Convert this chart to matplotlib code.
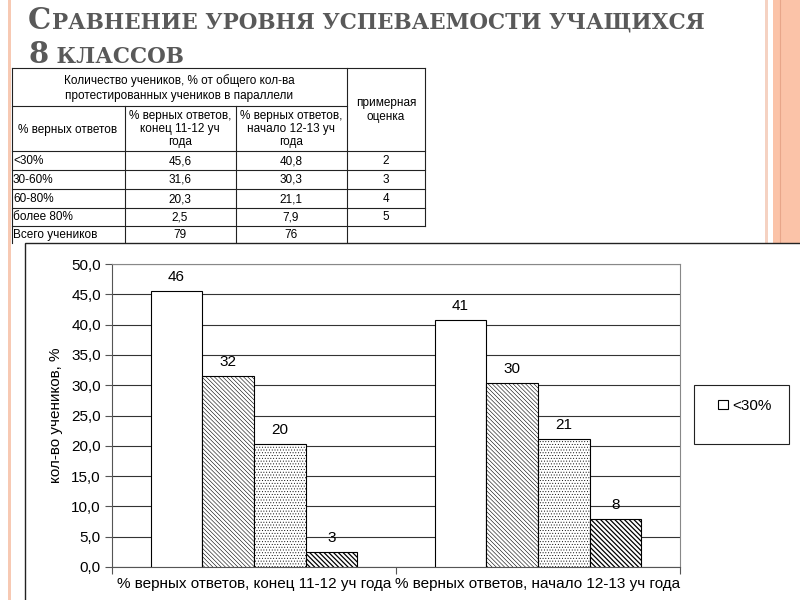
import numpy as np
import matplotlib as mpl
import matplotlib.pyplot as plt
from matplotlib.patches import Rectangle

plt.rcParams['font.family'] = ['Liberation Sans', 'DejaVu Sans']

# data
groups = ["% верных ответов, конец 11-12 уч года",
          "% верных ответов, начало 12-13 уч года"]
series = ["<30%", "30-60%", "60-80%", "более 80%"]
end_11_12 = [45.6, 31.6, 20.3, 2.5]
start_12_13 = [40.8, 30.3, 21.1, 7.9]
grades = ["2", "3", "4", "5"]
total_students = ["79", "76"]
yticks = np.arange(0, 55, 5)

W, H = 800, 600
fig = plt.figure(figsize=(8, 6), dpi=100)

# background layer in pixel coordinates
bg = fig.add_axes([0, 0, 1, 1])
bg.set_xlim(0, W)
bg.set_ylim(H, 0)
bg.axis('off')

# slide decoration (salmon borders)
bg.add_patch(Rectangle((8, 0), 3, H, color='#f7c9b3', lw=0))
bg.add_patch(Rectangle((765, 0), 3, H, color='#f5d2c2', lw=0))
bg.add_patch(Rectangle((773, 0), 27, H, color='#fbc3a8', lw=0))
bg.plot([780, 780], [0, H], color='#e8a68a', lw=0.8)

# title (small caps look)
title_col = '#595959'
def small_caps(x, y, first, rest, big=21, small=15.5):
    t = bg.text(x, y, first, fontsize=big, family='DejaVu Serif',
                weight='bold', color=title_col, va='baseline')
    fig.canvas.draw()
    bb = t.get_window_extent()
    bg.text(x + bb.width + 1, y, rest, fontsize=small, family='DejaVu Serif',
            weight='bold', color=title_col, va='baseline')

small_caps(28, 29, "С", "РАВНЕНИЕ УРОВНЯ УСПЕВАЕМОСТИ УЧАЩИХСЯ")
small_caps(28, 63, "8", " КЛАССОВ")

# table
rows = [151, 170, 189, 208, 226, 243]
lc = '#222222'
tl = 0.8
bg.plot([12, 425], [68, 68], color=lc, lw=tl)
bg.plot([12, 347], [106, 106], color=lc, lw=tl)
for r in rows[:-1]:
    bg.plot([12, 425], [r, r], color=lc, lw=tl)
bg.plot([12, 12], [68, 243], color=lc, lw=tl)
bg.plot([125, 125], [106, 243], color=lc, lw=tl)
bg.plot([236, 236], [106, 243], color=lc, lw=tl)
bg.plot([347, 347], [68, 243], color=lc, lw=tl)
bg.plot([425, 425], [68, 226], color=lc, lw=tl)

fs_t = 8.5
bg.text(179, 88, "Количество учеников, % от общего кол-ва\nпротестированных учеников в параллели",
        ha='center', va='center', fontsize=fs_t, linespacing=1.3)
bg.text(386, 110, "примерная\nоценка", ha='center', va='center', fontsize=fs_t, linespacing=1.3)
bg.text(68, 130, "% верных ответов", ha='center', va='center', fontsize=fs_t)
bg.text(180, 129, "% верных ответов,\nконец 11-12 уч\nгода", ha='center', va='center',
        fontsize=fs_t, linespacing=1.15)
bg.text(291, 129, "% верных ответов,\nначало 12-13 уч\nгода", ha='center', va='center',
        fontsize=fs_t, linespacing=1.15)
row_names = series[:3] + ["более 80%", "Всего учеников"]
for i, name in enumerate(row_names):
    yc = (rows[i] + rows[i + 1]) / 2 + 0.5
    bg.text(13, yc, name, ha='left', va='center', fontsize=fs_t)
    if i < 4:
        bg.text(180, yc, f"{end_11_12[i]:.1f}".replace('.', ','), ha='center', va='center', fontsize=fs_t)
        bg.text(291, yc, f"{start_12_13[i]:.1f}".replace('.', ','), ha='center', va='center', fontsize=fs_t)
        bg.text(386, yc, grades[i], ha='center', va='center', fontsize=fs_t)
    else:
        bg.text(180, yc, total_students[0], ha='center', va='center', fontsize=fs_t)
        bg.text(291, yc, total_students[1], ha='center', va='center', fontsize=fs_t)

# chart frame
bg.add_patch(Rectangle((25, 243), 800, 400, facecolor='white', edgecolor='#222222', lw=1, zorder=5))

# legend box (cut-off legend in original)
bg.add_patch(Rectangle((694, 385), 95, 59, facecolor='white', edgecolor='#222222', lw=0.8, zorder=6))

# chart
px0, px1, py0, py1 = 112, 680, 264, 567
ax = fig.add_axes([px0 / W, 1 - py1 / H, (px1 - px0) / W, (py1 - py0) / H])
ax.set_zorder(10)

styles = [
    (None, 0.6),
    ('\\\\\\\\\\\\\\\\', 0.4),
    ('......', 0.35),
    ('\\\\\\\\\\\\\\', 0.9),
]
data = np.array([end_11_12, start_12_13])
centers = np.array([0.5, 1.5])
bw = 0.182
handles = []
for k, name in enumerate(series):
    xs = centers + (k - 1.5) * bw
    hatch, hlw = styles[k]
    with mpl.rc_context({'hatch.linewidth': hlw}):
        b = ax.bar(xs, data[:, k], width=bw, facecolor='white', edgecolor='black',
                   lw=0.8, hatch=hatch, label=name, zorder=3)
    handles.append(b)
    for x, v in zip(xs, data[:, k]):
        ax.annotate(str(int(v + 0.5)), (x, v), xytext=(0, 5), textcoords='offset points',
                    ha='center', va='bottom', fontsize=11)

ax.set_xlim(0, 2)
ax.set_ylim(0, 50)
ax.set_yticks(yticks)
ax.set_yticklabels([f"{v:.1f}".replace('.', ',') for v in yticks], fontsize=11)
ax.yaxis.grid(True, color='#333333', lw=0.8)
ax.set_axisbelow(True)
ax.set_xticks([0, 1, 2])
ax.set_xticklabels([])
ax.set_xticks(centers, minor=True)
ax.set_xticklabels(groups, minor=True, fontsize=11)
ax.tick_params(axis='x', which='minor', length=0, pad=7)
ax.tick_params(axis='x', which='major', length=5, direction='out', color='#555555')
ax.tick_params(axis='y', length=5, direction='out', color='#555555', pad=3)
for s in ['top', 'right']:
    ax.spines[s].set_color('#888888')
for s in ['left', 'bottom']:
    ax.spines[s].set_color('#555555')
ax.set_ylabel("кол-во учеников, %", fontsize=11, labelpad=6)

fig.legend(handles=[handles[0]], labels=[series[0]], loc='center',
           bbox_to_anchor=(745 / W, 1 - 406 / H), frameon=False, fontsize=11,
           handlelength=0.6, handleheight=0.6, handletextpad=0.3)

fig.savefig("out.png", dpi=100)
